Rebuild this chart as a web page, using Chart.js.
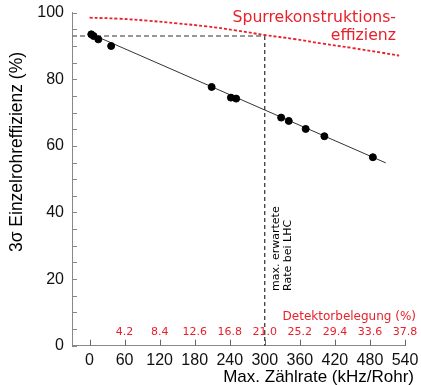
<!DOCTYPE html>
<html>
<head>
<meta charset="utf-8">
<script src="https://cdn.jsdelivr.net/npm/chart.js@4"></script>
<style>
html,body{margin:0;padding:0;background:#fff;}
#wrap{width:421px;height:385px;}
</style>
</head>
<body>
<div id="wrap"><canvas id="c" width="421" height="385"></canvas></div>
<script>
// measured single-tube efficiency
const rateX = [3, 7, 15, 37, 209, 242, 251, 328, 341, 370, 402, 485];
const effY  = [93.5, 93.0, 92.0, 90.0, 77.7, 74.5, 74.2, 68.5, 67.5, 65.1, 62.9, 56.6];
// linear fit
const fitX = [0, 507];
const fitY = [93.8, 54.9];
// track reconstruction efficiency (red dotted)
const trackX = [0, 50, 100, 150, 200, 250, 300, 350, 400, 450, 500, 530];
const trackY = [98.5, 98.2, 97.6, 96.8, 95.9, 94.7, 93.3, 92.1, 90.7, 89.4, 88.0, 87.1];
// expected LHC rate markers
const lhcRate = 300;
const lhcEff = 93;
// axis ticks
const xTicks = [0, 60, 120, 180, 240, 300, 360, 420, 480, 540];
const yMinorTicks = [0,5,10,15,20,25,30,35,40,45,50,55,60,65,70,75,80,85,90,95,100];
// detector occupancy labels
const occPos = [60, 120, 180, 240, 300, 360, 420, 480, 540];
const occLabels = ['4.2','8.4','12.6','16.8','21.0','25.2','29.4','33.6','37.8'];

const RED = '#e8202a';
const toPts = (xs, ys) => xs.map((v, i) => ({x: v, y: ys[i]}));

const overlay = {
  id: 'overlay',
  afterDraw(chart) {
    const ctx = chart.ctx, x = chart.scales.x, y = chart.scales.y, ca = chart.chartArea;
    ctx.save();
    // inward ticks
    ctx.strokeStyle = '#888'; ctx.lineWidth = 1;
    yMinorTicks.forEach(v => {
      const py = Math.round(y.getPixelForValue(v)) + 0.5;
      ctx.beginPath(); ctx.moveTo(ca.left, py); ctx.lineTo(ca.left + 5, py); ctx.stroke();
    });
    ctx.strokeStyle = '#666';
    xTicks.forEach(v => {
      const px = Math.round(x.getPixelForValue(v)) + 0.5;
      ctx.beginPath(); ctx.moveTo(px, ca.bottom); ctx.lineTo(px, ca.bottom - 6); ctx.stroke();
    });
    // occupancy labels
    ctx.fillStyle = RED;
    ctx.font = '11px "DejaVu Sans"';
    ctx.textAlign = 'center'; ctx.textBaseline = 'middle';
    occPos.forEach((v, i) => ctx.fillText(occLabels[i], x.getPixelForValue(v), 332));
    ctx.font = '12px "DejaVu Sans"';
    ctx.textAlign = 'right';
    ctx.fillText('Detektorbelegung (%)', 416, 316.5);
    // track efficiency label
    ctx.font = '15.7px "DejaVu Sans"';
    ctx.textBaseline = 'alphabetic';
    ctx.fillText('Spurrekonstruktions-', 396, 22);
    ctx.fillText('effizienz', 396, 40);
    // LHC rate label
    ctx.fillStyle = '#000';
    ctx.font = '11px "DejaVu Sans"';
    ctx.save();
    ctx.translate(279, 291);
    ctx.rotate(-Math.PI / 2);
    ctx.textAlign = 'left';
    ctx.fillText('max. erwartete', 0, 0);
    ctx.fillText('Rate bei LHC', 0, 11.7);
    ctx.restore();
    // axis titles
    ctx.fillStyle = '#000';
    ctx.font = '17px "Liberation Sans"';
    ctx.textAlign = 'right'; ctx.textBaseline = 'middle';
    ctx.fillText('Max. Zählrate (kHz/Rohr)', 414, 377);
    ctx.save();
    ctx.translate(17, 152);
    ctx.rotate(-Math.PI / 2);
    ctx.textAlign = 'center';
    ctx.font = '17.5px "Liberation Sans"';
    ctx.fillText('3σ Einzelrohreffizienz (%)', 0, 0);
    ctx.restore();
    ctx.restore();
  }
};

new Chart(document.getElementById('c'), {
  type: 'scatter',
  data: {
    datasets: [
      { data: toPts(rateX, effY), backgroundColor: '#000', borderColor: '#000', pointRadius: 3.5, showLine: false, order: 0 },
      { data: toPts(fitX, fitY), borderColor: '#333', borderWidth: 1, pointRadius: 0, showLine: true, order: 1 },
      { data: toPts(trackX, trackY), borderColor: RED, borderWidth: 1.8, borderDash: [3, 2], pointRadius: 0, showLine: true, tension: 0.4, order: 2 },
      { data: [{x: -30, y: lhcEff}, {x: lhcRate, y: lhcEff}], borderColor: '#777', borderWidth: 1.3, borderDash: [5, 3], pointRadius: 0, showLine: true, order: 3 },
      { data: [{x: lhcRate, y: lhcEff}, {x: lhcRate, y: 0}], borderColor: '#000', borderWidth: 1, borderDash: [4, 3], pointRadius: 0, showLine: true, order: 3 }
    ]
  },
  options: {
    responsive: false,
    animation: false,
    events: [],
    layout: { padding: { left: 0, right: 16, top: 12.7, bottom: 0 } },
    plugins: { legend: { display: false }, tooltip: { enabled: false } },
    scales: {
      x: {
        type: 'linear', min: -30, max: 540,
        afterBuildTicks: s => { s.ticks = xTicks.map(v => ({value: v})); },
        afterFit: s => { s.height = 39.3; s.paddingLeft = 0; s.paddingRight = 0; },
        grid: { display: false, drawTicks: false, tickLength: 0 },
        border: { display: true, color: '#888', width: 1 },
        ticks: { color: '#111', font: { family: 'Liberation Sans', size: 16 }, padding: 5, maxRotation: 0, autoSkip: false }
      },
      y: {
        type: 'linear', min: 0, max: 100,
        ticks: { stepSize: 20, color: '#111', font: { family: 'Liberation Sans', size: 16 }, padding: 8 },
        afterFit: s => { s.width = 72; s.paddingTop = 0; s.paddingBottom = 0; },
        grid: { display: false, drawTicks: false, tickLength: 0 },
        border: { display: true, color: '#888', width: 1 }
      }
    }
  },
  plugins: [overlay]
});
</script>
</body>
</html>
